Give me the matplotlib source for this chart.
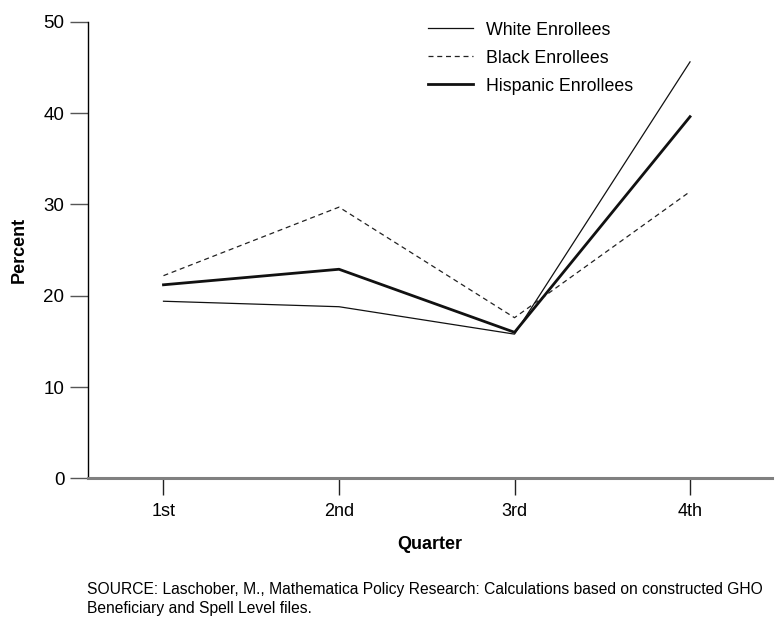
import matplotlib.pyplot as plt

plt.rcParams['font.family'] = ['Liberation Sans', 'DejaVu Sans']

# data
quarters = ['1st', '2nd', '3rd', '4th']
white = [19.4, 18.8, 15.8, 45.6]
black = [22.2, 29.7, 17.6, 31.4]
hispanic = [21.2, 22.9, 16.0, 39.6]
series_labels = ['White Enrollees', 'Black Enrollees', 'Hispanic Enrollees']
source = ("SOURCE: Laschober, M., Mathematica Policy Research: Calculations based on constructed GHO\n"
          "Beneficiary and Spell Level files.")

fig = plt.figure(figsize=(7.79, 6.19), dpi=100)
ax = fig.add_axes([0.113, 0.227, 0.878, 0.738])

x = list(range(1, len(quarters) + 1))
ax.plot(x, white, color='#111111', lw=0.9, label=series_labels[0])
ax.plot(x, black, color='#222222', lw=0.9, ls=(0, (4, 3)), label=series_labels[1])
ax.plot(x, hispanic, color='#111111', lw=2.0, label=series_labels[2])

ax.set_xlim(1 - 0.43, 4 + 0.467)
ax.set_ylim(0, 50)
ax.set_xticks(x, quarters)
ax.set_yticks([0, 10, 20, 30, 40, 50])

for s in ['top', 'right']:
    ax.spines[s].set_visible(False)
ax.spines['left'].set_linewidth(1.0)
ax.spines['bottom'].set_color('#808080')
ax.spines['bottom'].set_linewidth(2.2)
ax.tick_params(axis='y', length=13, width=1.0, color='#555555', labelsize=13.5, pad=4)
ax.tick_params(axis='x', length=12, width=1.0, color='#222222', labelsize=13, pad=6)

ax.set_ylabel('Percent', fontsize=13, fontweight='bold', labelpad=11)
ax.set_xlabel('Quarter', fontsize=13, fontweight='bold', labelpad=11)

ax.legend(loc='upper left', bbox_to_anchor=(0.474, 1.035), frameon=False,
          fontsize=12.8, handlelength=2.5, handletextpad=0.75, labelspacing=0.62)

fig.text(0.112, 1 - 582 / 619, source, fontsize=11.25, ha='left', va='top', linespacing=1.3)

fig.savefig('out.png', dpi=100)
